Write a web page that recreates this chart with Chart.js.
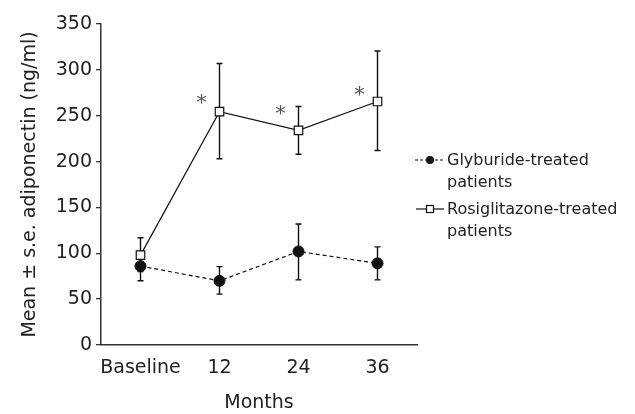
<!DOCTYPE html>
<html>
<head>
<meta charset="utf-8">
<script src="https://cdn.jsdelivr.net/npm/chart.js@4"></script>
<style>
html,body{margin:0;padding:0;background:#fff;}
#wrap{width:635px;height:414px;position:relative;}
</style>
</head>
<body>
<div id="wrap"><canvas id="c" width="635" height="414"></canvas></div>
<script>
const categories = ['Baseline', '12', '24', '36'];
const glyburide = [86, 70, 102, 89];
const glyburideHigh = [100, 85.5, 132, 107];
const glyburideLow = [70, 55.5, 71, 71];
const rosiglitazone = [98, 254.5, 234, 265.5];
const rosiglitazoneHigh = [117, 307, 260, 320.5];
const rosiglitazoneLow = [80, 203, 208, 212];
const asteriskY = [null, 267, 255, 276];
const seriesNames = [['Glyburide-treated', 'patients'], ['Rosiglitazone-treated', 'patients']];
const yTicks = [0, 50, 100, 150, 200, 250, 300, 350];

const FONT = 'DejaVu Sans';
const INK = '#111';

const errorBars = {
  id: 'errorBars',
  beforeDatasetsDraw(chart) {
    const ctx = chart.ctx, x = chart.scales.x, y = chart.scales.y;
    const sets = [[glyburideHigh, glyburideLow], [rosiglitazoneHigh, rosiglitazoneLow]];
    ctx.save();
    ctx.strokeStyle = INK;
    ctx.lineWidth = 1.4;
    sets.forEach(([hi, lo]) => {
      categories.forEach((c, i) => {
        const px = x.getPixelForValue(i);
        const yh = y.getPixelForValue(hi[i]), yl = y.getPixelForValue(lo[i]);
        ctx.beginPath();
        ctx.moveTo(px, yh); ctx.lineTo(px, yl);
        ctx.moveTo(px - 3, yh); ctx.lineTo(px + 3, yh);
        ctx.moveTo(px - 3, yl); ctx.lineTo(px + 3, yl);
        ctx.stroke();
      });
    });
    ctx.restore();
  },
  afterDatasetsDraw(chart) {
    const ctx = chart.ctx, x = chart.scales.x, y = chart.scales.y;
    ctx.save();
    ctx.fillStyle = '#555';
    ctx.font = '20px "DejaVu Serif"';
    ctx.textAlign = 'center';
    ctx.textBaseline = 'middle';
    asteriskY.forEach((v, i) => {
      if (v == null) return;
      ctx.fillText('*', x.getPixelForValue(i) - 18, y.getPixelForValue(v) + 4);
    });
    ctx.restore();
  },
  afterDraw(chart) {
    const ctx = chart.ctx;
    ctx.save();
    ctx.font = '16px "' + FONT + '"';
    ctx.fillStyle = '#222';
    ctx.textBaseline = 'alphabetic';
    ctx.textAlign = 'left';
    const rows = [160, 209];
    ctx.strokeStyle = INK;
    ctx.lineWidth = 1.2;
    ctx.setLineDash([3, 2]);
    ctx.beginPath(); ctx.moveTo(415, rows[0]); ctx.lineTo(444, rows[0]); ctx.stroke();
    ctx.setLineDash([]);
    ctx.beginPath(); ctx.fillStyle = INK; ctx.arc(430, rows[0], 4, 0, Math.PI * 2); ctx.fill();
    ctx.beginPath(); ctx.moveTo(416, rows[1]); ctx.lineTo(444, rows[1]); ctx.stroke();
    ctx.fillStyle = '#fff';
    ctx.fillRect(426.5, rows[1] - 3.5, 7, 7);
    ctx.strokeRect(426.5, rows[1] - 3.5, 7, 7);
    ctx.fillStyle = '#222';
    seriesNames.forEach((lines, k) => {
      lines.forEach((t, j) => ctx.fillText(t, 447, rows[k] + 5 + j * 22));
    });
    ctx.restore();
  }
};

new Chart(document.getElementById('c'), {
  type: 'line',
  data: {
    labels: categories,
    datasets: [
      {
        label: 'Glyburide-treated patients',
        data: glyburide,
        borderColor: INK,
        borderWidth: 1.2,
        borderDash: [4, 3],
        pointStyle: 'circle',
        pointRadius: 5.5,
        pointBackgroundColor: INK,
        pointBorderColor: INK,
        pointBorderWidth: 1,
        tension: 0
      },
      {
        label: 'Rosiglitazone-treated patients',
        data: rosiglitazone,
        borderColor: INK,
        borderWidth: 1.2,
        pointStyle: 'rect',
        pointRadius: 6,
        pointBackgroundColor: '#fff',
        pointBorderColor: INK,
        pointBorderWidth: 1.2,
        tension: 0
      }
    ]
  },
  options: {
    responsive: false,
    animation: false,
    events: [],
    layout: { padding: { left: 0, right: 218, top: 24, bottom: 0 } },
    plugins: { legend: { display: false }, tooltip: { enabled: false } },
    scales: {
      x: {
        type: 'category',
        offset: true,
        grid: { display: false, drawTicks: false },
        border: { display: true, color: '#333', width: 1.5 },
        ticks: { color: '#222', font: { family: FONT, size: 19 }, padding: 12, maxRotation: 0, autoSkip: false },
        title: { display: true, text: 'Months', color: '#222', font: { family: FONT, size: 19 }, padding: { top: 11, bottom: 0 } },
        afterFit(s) { s.height = 69; }
      },
      y: {
        min: 0, max: 350,
        afterBuildTicks(s) { s.ticks = yTicks.map(v => ({ value: v })); },
        grid: { display: true, drawOnChartArea: false, drawTicks: true, tickLength: 5, color: '#333', lineWidth: 1.3 },
        border: { display: true, color: '#333', width: 1.5 },
        ticks: { color: '#222', font: { family: FONT, size: 19 }, padding: 4 },
        title: { display: true, text: 'Mean ± s.e. adiponectin (ng/ml)', color: '#222', font: { family: FONT, size: 19 }, padding: { top: 19, bottom: 0 } },
        afterFit(s) { s.width = 101; }
      }
    }
  },
  plugins: [errorBars]
});
</script>
</body>
</html>
